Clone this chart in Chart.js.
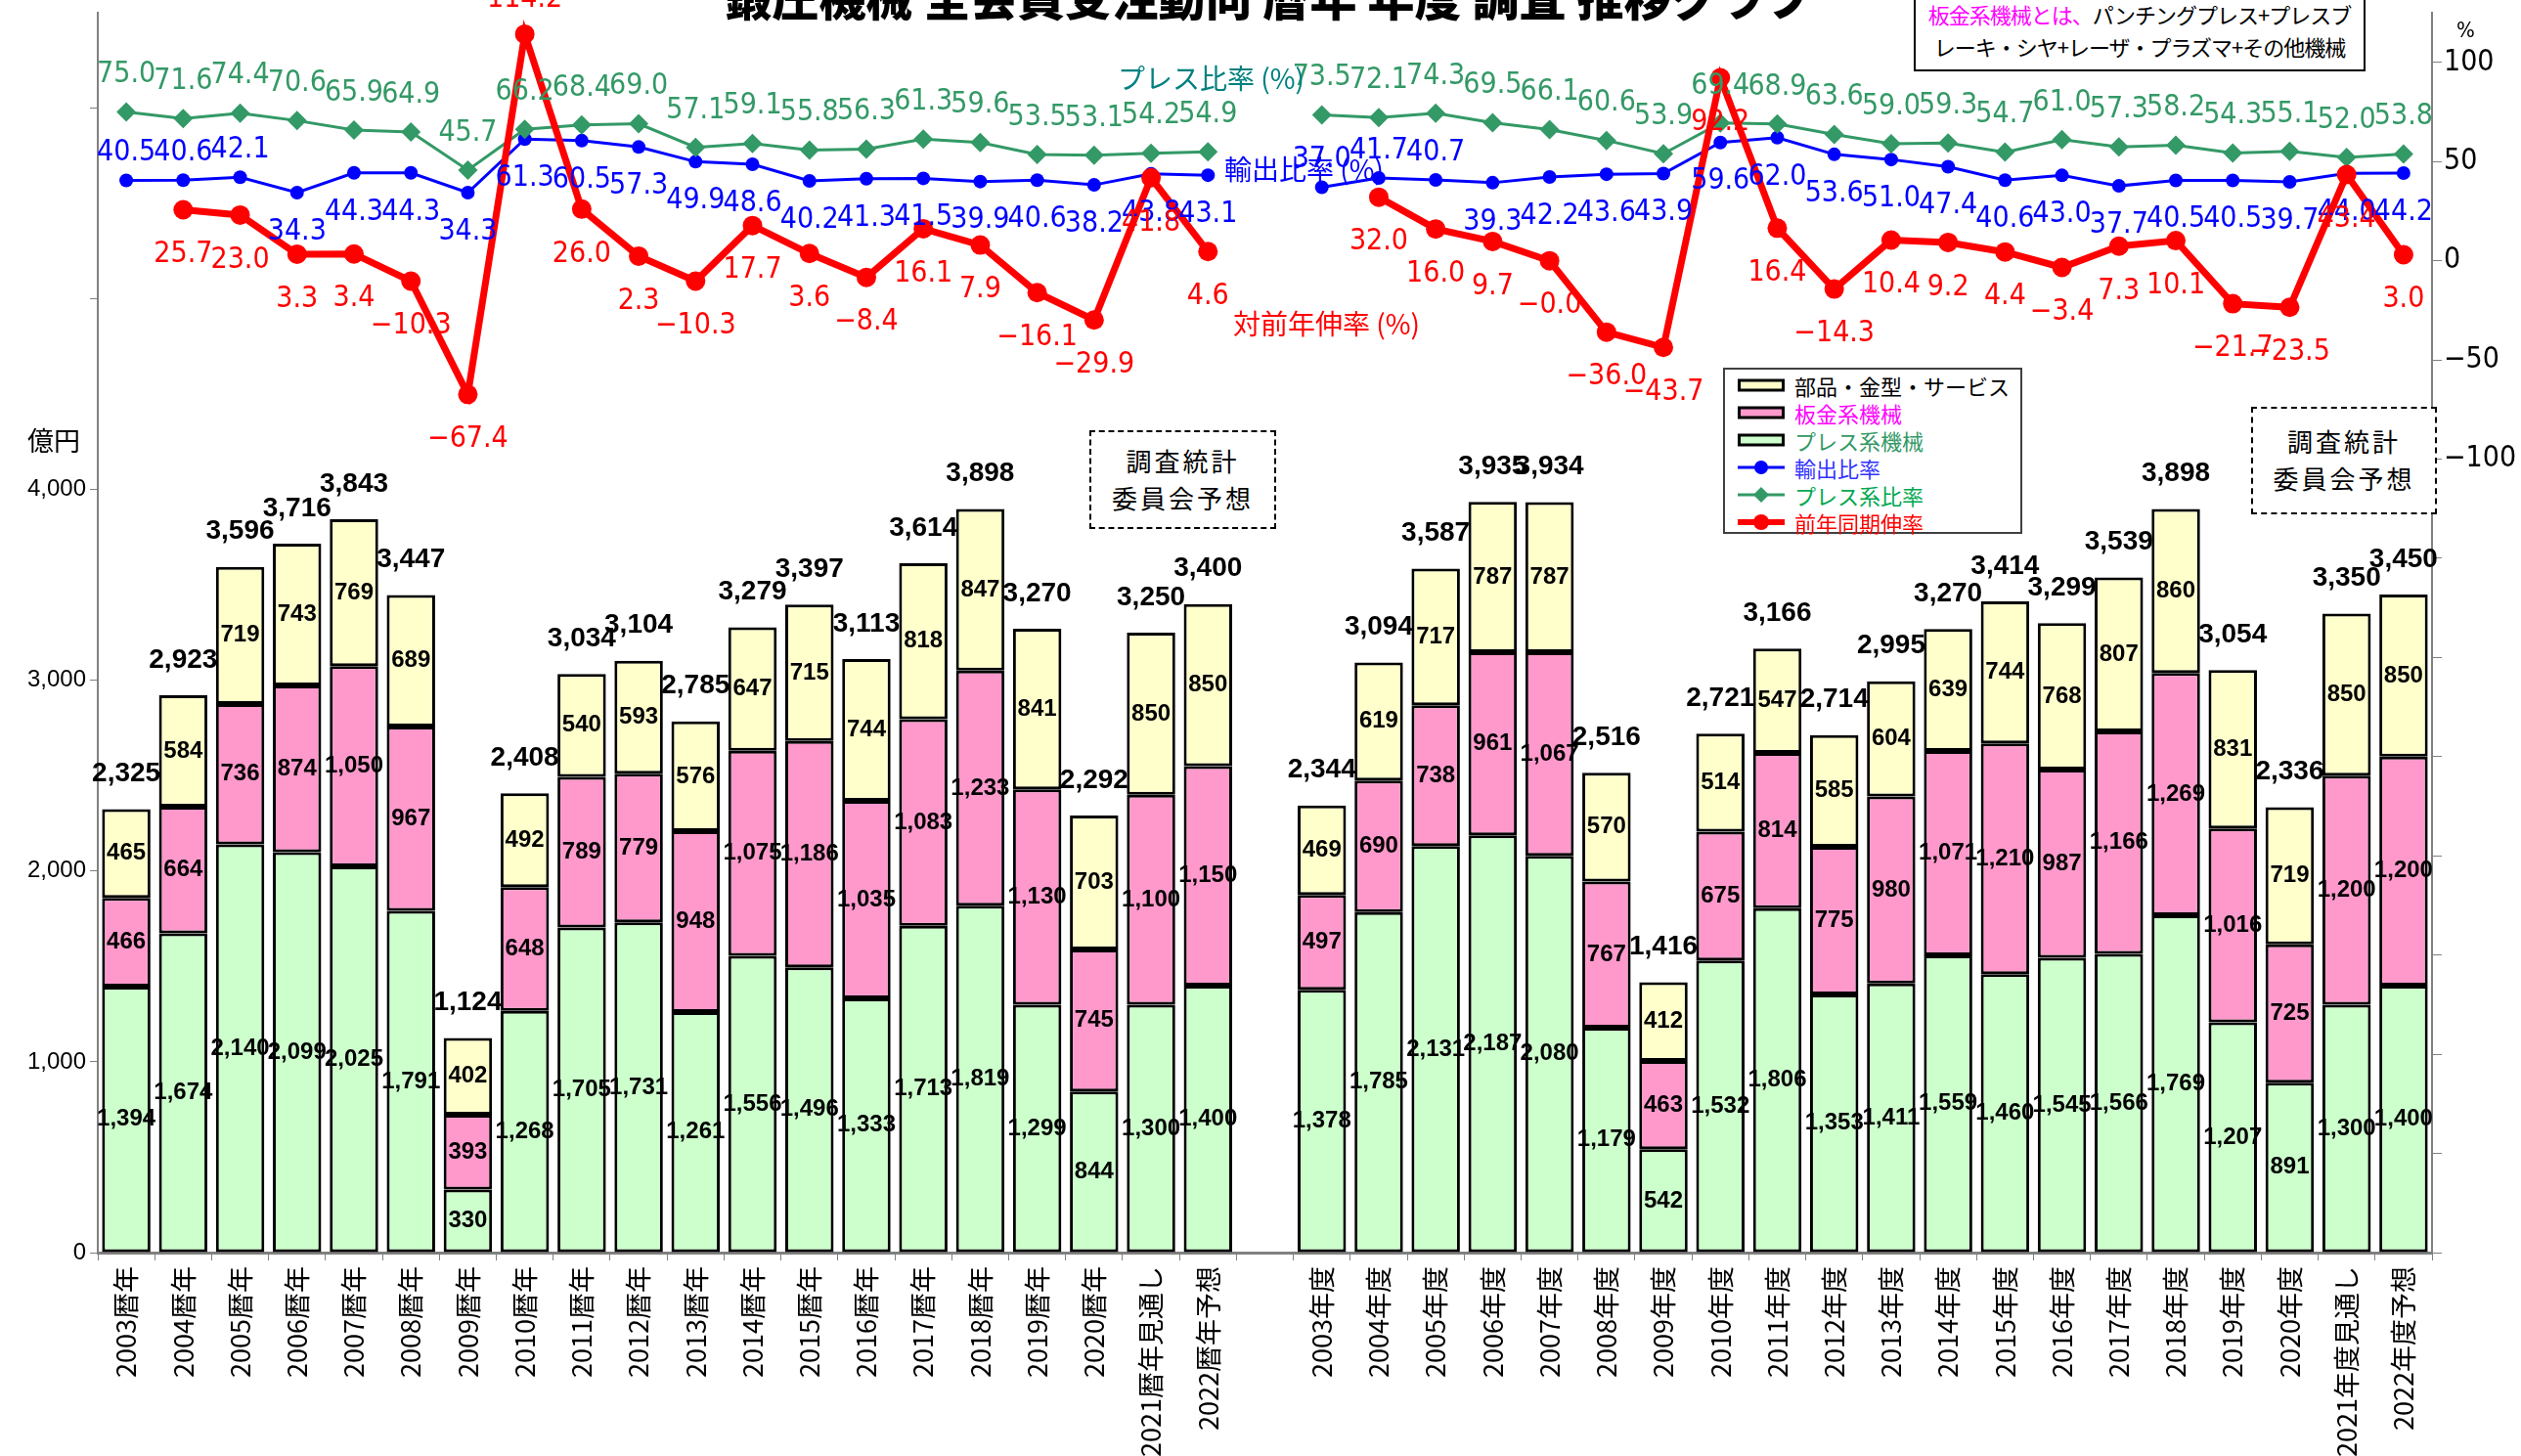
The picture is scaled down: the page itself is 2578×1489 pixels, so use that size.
<!DOCTYPE html>
<html lang="ja">
<head>
<meta charset="utf-8">
<title>鍛圧機械 全会員受注動向 推移グラフ</title>
<script src="https://cdn.jsdelivr.net/npm/chart.js@4.4.1/dist/chart.umd.min.js"></script>
<style>
  html, body { margin: 0; padding: 0; background: #fff; overflow: hidden; }
  #wrap { position: relative; width: 2578px; height: 1489px; }
  #chart { position: absolute; left: 0; top: 0; }
  .abs { position: absolute; white-space: nowrap; font-family: "Noto Sans CJK JP", sans-serif; }
  #title { left: 0; width: 2594px; top: -29px; text-align: center; font-size: 48px; font-weight: 900; line-height: 48px; color: #000; }
  #note { left: 1957px; top: -8px; width: 458px; height: 73px; border: 2px solid #000; background: #fff;
          font-size: 22px; line-height: 33px; text-align: center; padding-top: 4px; letter-spacing: -1px; }
  .dash { border: 2px dashed #000; background: #fff; text-align: center; font-size: 26px; line-height: 38px; letter-spacing: 3px; box-sizing: border-box; padding-top: 10px; }
  #legend { left: 1762px; top: 376px; width: 306px; height: 170px; border: 2px solid #404040; background: #fff; box-sizing: border-box; padding-top: 2px; }
  .row { height: 28px; display: flex; align-items: center; font-size: 22px; line-height: 28px; }
  .row svg { margin-left: 13px; margin-right: 10px; }
  .series { font-size: 28px; line-height: 30px; }
</style>
</head>
<body>
<div id="wrap">
  <canvas id="chart" width="2578" height="1489"></canvas>

  <div class="abs" id="title">鍛圧機械 全会員受注動向 暦年 年度 調査 推移グラフ</div>

  <div class="abs" id="note"><span style="color:#FF00FF">板金系機械とは、</span>パンチングプレス+プレスブ<br>レーキ・シヤ+レーザ・プラズマ+その他機械</div>

  <div class="abs" style="left:2512px; top:18px; font-size:22px; font-family:'Liberation Sans Narrow','DejaVu Sans Condensed',sans-serif;">%</div>
  <div class="abs" style="left:28px; top:430px; font-size:27px;">億円</div>

  <div class="abs series" style="left:1143px; top:64px; color:#008080;">プレス比率 (%)</div>
  <div class="abs series" style="left:1252px; top:157px; color:#0000FF;">輸出比率 (%)</div>
  <div class="abs series" style="left:1261px; top:315px; color:#FF0000;">対前年伸率 (%)</div>

  <div class="abs dash" style="left:1114px; top:440px; width:191px; height:101px;">調査統計<br>委員会予想</div>
  <div class="abs dash" style="left:2302px; top:416px; width:190px; height:110px; padding-top:14px;">調査統計<br>委員会予想</div>

  <div class="abs" id="legend">
    <div class="row"><svg width="48" height="14"><rect x="1.5" y="2" width="45" height="10" fill="#FFFFCC" stroke="#000" stroke-width="3"/></svg><span style="color:#000">部品・金型・サービス</span></div>
    <div class="row"><svg width="48" height="14"><rect x="1.5" y="2" width="45" height="10" fill="#FF99CC" stroke="#000" stroke-width="3"/></svg><span style="color:#FF00FF">板金系機械</span></div>
    <div class="row"><svg width="48" height="14"><rect x="1.5" y="2" width="45" height="10" fill="#CCFFCC" stroke="#000" stroke-width="3"/></svg><span style="color:#339966">プレス系機械</span></div>
    <div class="row"><svg width="48" height="16"><line x1="0" y1="8" x2="48" y2="8" stroke="#0000FF" stroke-width="3"/><circle cx="24" cy="8" r="7" fill="#0000FF"/></svg><span style="color:#3333FF">輸出比率</span></div>
    <div class="row"><svg width="48" height="16"><line x1="0" y1="8" x2="48" y2="8" stroke="#339966" stroke-width="3"/><polygon points="24,0 32,8 24,16 16,8" fill="#339966"/></svg><span style="color:#00A84F">プレス系比率</span></div>
    <div class="row"><svg width="48" height="18"><line x1="0" y1="9" x2="48" y2="9" stroke="#FF0000" stroke-width="6"/><circle cx="24" cy="9" r="8" fill="#FF0000"/></svg><span style="color:#FF0000">前年同期伸率</span></div>
  </div>
</div>

<script>
// 暦年 (calendar year)
const calLabels = ["2003暦年", "2004暦年", "2005暦年", "2006暦年", "2007暦年", "2008暦年", "2009暦年",
  "2010暦年", "2011暦年", "2012暦年", "2013暦年", "2014暦年", "2015暦年", "2016暦年", "2017暦年",
  "2018暦年", "2019暦年", "2020暦年", "2021暦年見通し", "2022暦年予想"];
const calPress = [1394, 1674, 2140, 2099, 2025, 1791, 330, 1268, 1705, 1731, 1261, 1556, 1496, 1333, 1713, 1819, 1299, 844, 1300, 1400];
const calSheet = [466, 664, 736, 874, 1050, 967, 393, 648, 789, 779, 948, 1075, 1186, 1035, 1083, 1233, 1130, 745, 1100, 1150];
const calParts = [465, 584, 719, 743, 769, 689, 402, 492, 540, 593, 576, 647, 715, 744, 818, 847, 841, 703, 850, 850];
const calTotal = [2325, 2923, 3596, 3716, 3843, 3447, 1124, 2408, 3034, 3104, 2785, 3279, 3397, 3113, 3614, 3898, 3270, 2292, 3250, 3400];
const calExport = [40.5, 40.6, 42.1, 34.3, 44.3, 44.3, 34.3, 61.3, 60.5, 57.3, 49.9, 48.6, 40.2, 41.3, 41.5, 39.9, 40.6, 38.2, 43.8, 43.1];
const calPressRatio = [75.0, 71.6, 74.4, 70.6, 65.9, 64.9, 45.7, 66.2, 68.4, 69.0, 57.1, 59.1, 55.8, 56.3, 61.3, 59.6, 53.5, 53.1, 54.2, 54.9];
const calGrowth = [null, 25.7, 23.0, 3.3, 3.4, -10.3, -67.4, 114.2, 26.0, 2.3, -10.3, 17.7, 3.6, -8.4, 16.1, 7.9, -16.1, -29.9, 41.8, 4.6];

// 年度 (fiscal year)
const fyLabels = ["2003年度", "2004年度", "2005年度", "2006年度", "2007年度", "2008年度", "2009年度",
  "2010年度", "2011年度", "2012年度", "2013年度", "2014年度", "2015年度", "2016年度", "2017年度",
  "2018年度", "2019年度", "2020年度", "2021年度見通し", "2022年度予想"];
const fyPress = [1378, 1785, 2131, 2187, 2080, 1179, 542, 1532, 1806, 1353, 1411, 1559, 1460, 1545, 1566, 1769, 1207, 891, 1300, 1400];
const fySheet = [497, 690, 738, 961, 1067, 767, 463, 675, 814, 775, 980, 1071, 1210, 987, 1166, 1269, 1016, 725, 1200, 1200];
const fyParts = [469, 619, 717, 787, 787, 570, 412, 514, 547, 585, 604, 639, 744, 768, 807, 860, 831, 719, 850, 850];
const fyTotal = [2344, 3094, 3587, 3935, 3934, 2516, 1416, 2721, 3166, 2714, 2995, 3270, 3414, 3299, 3539, 3898, 3054, 2336, 3350, 3450];
const fyExport = [37.0, 41.7, 40.7, 39.3, 42.2, 43.6, 43.9, 59.6, 62.0, 53.6, 51.0, 47.4, 40.6, 43.0, 37.7, 40.5, 40.5, 39.7, 44.0, 44.2];
const fyPressRatio = [73.5, 72.1, 74.3, 69.5, 66.1, 60.6, 53.9, 69.4, 68.9, 63.6, 59.0, 59.3, 54.7, 61.0, 57.3, 58.2, 54.3, 55.1, 52.0, 53.8];
const fyGrowth = [null, 32.0, 16.0, 9.7, -0.03, -36.0, -43.7, 92.2, 16.4, -14.3, 10.4, 9.2, 4.4, -3.4, 7.3, 10.1, -21.7, -23.5, 43.4, 3.0];

// axis ticks
const leftTicks = [0, 1000, 2000, 3000, 4000, 5000, 6000];
const rightTicks = [-500, -450, -400, -350, -300, -250, -200, -150, -100, -50, 0, 50, 100];

// one empty slot between the two groups
const join = (a, b) => [...a, null, ...b];
const labels = [...calLabels, "", ...fyLabels];
const totals = join(calTotal, fyTotal);

const fmtInt = v => v.toLocaleString("en-US");
const fmtPct = v => (v < 0 ? "−" : "") + Math.abs(v).toFixed(1);

const NARROW = '"Liberation Sans Narrow", "DejaVu Sans Condensed", sans-serif';

// where each line label goes: negative = above the point
function labelOffset(name, i, v) {
  if (name === "プレス系比率") return -38;
  if (name === "前年同期伸率") return v > 100 ? -36 : 46;
  if (name === "輸出比率") return i < 3 ? -28 : 40;
  return 0;
}

const valueLabels = {
  id: "valueLabels",
  afterDatasetsDraw(chart) {
    const ctx = chart.ctx;
    ctx.save();
    ctx.textAlign = "center";
    ctx.textBaseline = "middle";
    ctx.fillStyle = "#000";

    // numbers inside the bar segments
    ctx.font = 'bold 24px "Liberation Sans", Arial, sans-serif';
    [0, 1, 2].forEach(di => {
      const meta = chart.getDatasetMeta(di);
      chart.data.datasets[di].data.forEach((v, i) => {
        if (v == null) return;
        const el = meta.data[i];
        ctx.fillText(fmtInt(v), el.x, (el.y + el.base) / 2);
      });
    });

    // totals on top
    ctx.font = 'bold 28px "Liberation Sans", Arial, sans-serif';
    const topMeta = chart.getDatasetMeta(2);
    totals.forEach((v, i) => {
      if (v == null) return;
      const el = topMeta.data[i];
      ctx.fillText(fmtInt(v), el.x, el.y - 36);
    });

    // line labels
    ctx.font = "30px " + NARROW;
    [3, 4, 5].forEach(di => {
      const ds = chart.data.datasets[di];
      const meta = chart.getDatasetMeta(di);
      ctx.fillStyle = ds.labelColor;
      ds.data.forEach((v, i) => {
        if (v == null) return;
        const el = meta.data[i];
        const idx = i > 20 ? i - 21 : i;
        ctx.fillText(fmtPct(v), el.x, el.y + labelOffset(ds.label, idx, v));
      });
    });
    ctx.restore();
  }
};

// keep the plot box fixed: no extra room for half tick labels
function noPad(scale) {
  scale.paddingTop = 0;
  scale.paddingBottom = 0;
  scale.paddingLeft = 0;
  scale.paddingRight = 0;
}

const barStyle = { borderColor: "#000", borderWidth: 3, borderSkipped: false, barPercentage: 0.85, categoryPercentage: 1, yAxisID: "y", order: 10 };

new Chart(document.getElementById("chart"), {
  type: "bar",
  data: {
    labels: labels,
    datasets: [
      { label: "プレス系機械", data: join(calPress, fyPress), backgroundColor: "#CCFFCC", ...barStyle },
      { label: "板金系機械", data: join(calSheet, fySheet), backgroundColor: "#FF99CC", ...barStyle },
      { label: "部品・金型・サービス", data: join(calParts, fyParts), backgroundColor: "#FFFFCC", ...barStyle },
      {
        type: "line", label: "輸出比率", data: join(calExport, fyExport), yAxisID: "y1", order: 3,
        borderColor: "#0000FF", backgroundColor: "#0000FF", borderWidth: 3, pointRadius: 7, pointBorderWidth: 0,
        labelColor: "#0000FF"
      },
      {
        type: "line", label: "プレス系比率", data: join(calPressRatio, fyPressRatio), yAxisID: "y1", order: 2,
        borderColor: "#339966", backgroundColor: "#339966", borderWidth: 3, pointStyle: "rectRot", pointRadius: 10, pointBorderWidth: 0,
        labelColor: "#339966"
      },
      {
        type: "line", label: "前年同期伸率", data: join(calGrowth, fyGrowth), yAxisID: "y1", order: 1,
        borderColor: "#FF0000", backgroundColor: "#FF0000", borderWidth: 7, pointRadius: 10, pointBorderWidth: 0,
        labelColor: "#FF0000"
      }
    ]
  },
  options: {
    responsive: false,
    animation: false,
    devicePixelRatio: 1,
    layout: { padding: { top: 13, left: 0, right: 0, bottom: 0 } },
    plugins: { legend: { display: false }, tooltip: { enabled: false } },
    scales: {
      x: {
        stacked: true,
        grid: { drawOnChartArea: false, tickLength: 8, color: "#808080", offset: true },
        border: { color: "#808080", width: 3 },
        ticks: {
          autoSkip: false, minRotation: 90, maxRotation: 90, padding: 6, color: "#000",
          font: { family: '"Noto Sans CJK JP", sans-serif', size: 27 }
        },
        afterFit(scale) { scale.height = 208; noPad(scale); }
      },
      y: {
        stacked: true,
        position: "left",
        min: 0, max: 6500,
        afterBuildTicks(scale) { scale.ticks = leftTicks.map(v => ({ value: v })); },
        ticks: {
          color: "#000", padding: 4,
          font: { family: '"Liberation Sans", Arial, sans-serif', size: 24 },
          callback: v => (v <= 4000 ? fmtInt(v) : "")
        },
        grid: { drawOnChartArea: false, tickLength: 8, color: "#808080" },
        border: { color: "#808080", width: 2 },
        afterFit(scale) { scale.width = 100; noPad(scale); }
      },
      y1: {
        position: "right",
        min: -500, max: 125,
        afterBuildTicks(scale) { scale.ticks = rightTicks.map(v => ({ value: v })); },
        ticks: {
          color: "#000", padding: 2,
          font: { family: NARROW, size: 30 },
          callback: v => (v >= -100 ? (v < 0 ? "−" : "") + Math.abs(v) : "")
        },
        grid: { drawOnChartArea: false, tickLength: 10, color: "#808080" },
        border: { color: "#808080", width: 2 },
        afterFit(scale) { scale.width = 91; noPad(scale); }
      }
    }
  },
  plugins: [valueLabels]
});
</script>
</body>
</html>
